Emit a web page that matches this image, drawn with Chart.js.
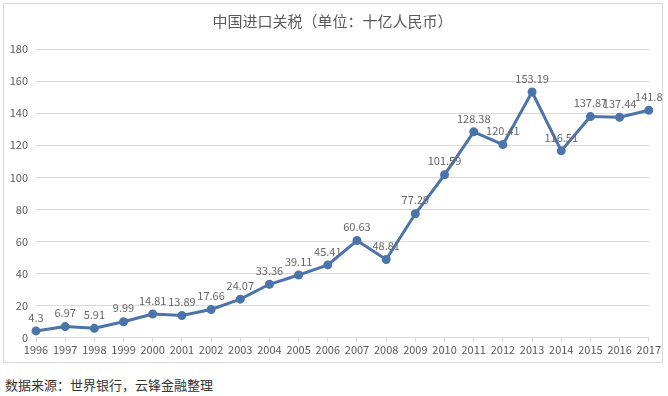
<!DOCTYPE html>
<html>
<head>
<meta charset="utf-8">
<script src="https://cdn.jsdelivr.net/npm/chart.js@4/dist/chart.umd.min.js"></script>
<style>
  body { margin: 0; background: #fff; font-family: "Noto Sans CJK SC", sans-serif; }
  #box { position: absolute; left: 3px; top: 3px; width: 660px; height: 360px; border: 1px solid #d9d9d9; box-sizing: border-box; }
  #note { position: absolute; left: 5px; top: 375px; font-size: 13px; color: #333; }
</style>
</head>
<body>
<div id="box"><canvas id="c"></canvas></div>
<div id="note">数据来源：世界银行，云锋金融整理</div>
<script>
const years = ['1996','1997','1998','1999','2000','2001','2002','2003','2004','2005','2006',
  '2007','2008','2009','2010','2011','2012','2013','2014','2015','2016','2017'];
const tariffs = [4.3, 6.97, 5.91, 9.99, 14.81, 13.89, 17.66, 24.07, 33.36, 39.11, 45.41,
  60.63, 48.81, 77.29, 101.59, 128.38, 120.41, 153.19, 116.51, 137.87, 137.44, 141.8];
const labelText = ['4.3','6.97','5.91','9.99','14.81','13.89','17.66','24.07','33.36','39.11','45.41',
  '60.63','48.81','77.29','101.59','128.38','120.41','153.19','116.51','137.87','137.44','141.8'];

const gray = '#595959';
const font = 'Noto Sans CJK SC';

// value labels above each point
const pointLabels = {
  id: 'pointLabels',
  afterDatasetsDraw(chart) {
    const ctx = chart.ctx;
    const meta = chart.getDatasetMeta(0);
    ctx.save();
    ctx.font = '11px ' + font;
    ctx.fillStyle = '#666';
    ctx.textAlign = 'center';
    ctx.textBaseline = 'bottom';
    meta.data.forEach((pt, i) => {
      ctx.fillText(labelText[i], pt.x, pt.y - 8);
    });
    ctx.restore();
  }
};

new Chart(document.getElementById('c'), {
  type: 'line',
  data: {
    labels: years,
    datasets: [{
      data: tariffs,
      borderColor: '#4a74aa',
      backgroundColor: '#4a74aa',
      borderWidth: 3,
      pointRadius: 3,
      tension: 0
    }]
  },
  options: {
    responsive: true,
    maintainAspectRatio: false,
    animation: false,
    layout: { padding: { left: 2, right: 3, top: 0, bottom: 5 } },
    plugins: {
      legend: { display: false },
      tooltip: { enabled: false },
      title: {
        display: true,
        text: '中国进口关税（单位：十亿人民币）',
        color: gray,
        font: { family: font, size: 15, weight: 'normal' },
        padding: { top: 8, bottom: 19 }
      }
    },
    scales: {
      x: {
        offset: false,
        grid: { display: true, drawOnChartArea: false, drawTicks: true, tickLength: 4, color: '#d9d9d9' },
        border: { color: '#d9d9d9' },
        ticks: { color: gray, font: { family: font, size: 11 }, maxRotation: 0, autoSkip: false, padding: 1 }
      },
      y: {
        min: 0,
        max: 180,
        afterFit(scale) { scale.width = 30; },
        grid: { color: '#d9d9d9', drawTicks: false },
        border: { display: false },
        ticks: { stepSize: 20, color: gray, font: { family: font, size: 11 }, padding: 8 }
      }
    }
  },
  plugins: [pointLabels]
});
</script>
</body>
</html>
